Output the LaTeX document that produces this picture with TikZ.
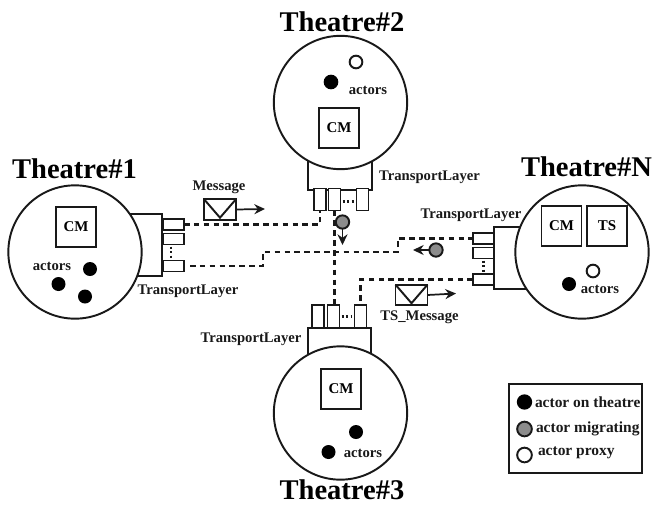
\documentclass[tikz,border=0pt]{standalone}
\usepackage{fontspec}
\setmainfont{Liberation Serif}[BoldFont={Liberation Serif Bold}]
\usetikzlibrary{arrows.meta}
\tikzset{
  x=0.75pt,y=-0.75pt,
  every node/.style={inner sep=0pt,outer sep=0pt},
  stroke/.style={draw=black!90,line width=1.45pt},
  theatre/.style={stroke,fill=white,circle,minimum size=100pt},
  tlayer/.style={stroke,fill=white,rectangle},
  porth/.style={stroke,fill=white,rectangle,minimum width=15.75pt,minimum height=8.25pt},
  portv/.style={stroke,fill=white,rectangle,minimum width=9pt,minimum height=16.5pt},
  cmbox/.style={stroke,fill=white,rectangle,minimum size=30pt,font=\fontsize{11.2pt}{13pt}\selectfont\bfseries},
  onactor/.style={circle,fill=black,minimum size=10.5pt},
  proxy/.style={circle,stroke,fill=white,minimum size=9.5pt},
  migr/.style={circle,stroke,fill=black!45,minimum size=10pt},
  title/.style={font=\fontsize{21.4pt}{24pt}\selectfont\bfseries},
  lbl/.style={font=\fontsize{11pt}{13pt}\selectfont\bfseries,text=black!90},
  leglbl/.style={font=\fontsize{11.6pt}{14pt}\selectfont\bfseries,text=black!90,anchor=west},
  link/.style={draw=black!90,line width=1.8pt,dash pattern=on 4.2pt off 3.2pt},
  dotline/.style={draw=black!90,line width=1.7pt,dash pattern=on 1.7pt off 1.7pt,shorten >=1.6pt,shorten <=1.6pt},
  envel/.style={stroke,fill=white,rectangle,minimum width=24pt,minimum height=15.5pt},
  flow/.style={draw=black!90,line width=1.3pt,-{Stealth[length=8pt,width=7.5pt]}},
}
\begin{document}
\begin{tikzpicture}
\useasboundingbox (0,0) rectangle (652,504);

% Theatre 1
\node[tlayer,minimum width=31.5pt,minimum height=46.5pt] (t1l) at (141,245) {};
\node[theatre] (t1) at (75,252) {};
\node[porth] (t1a) at (173.5,224.5) {};
\node[porth] (t1b) at (173.5,239) {};
\node[porth] (t1c) at (173.5,266) {};
\node[cmbox] (t1m) at (76,227) {CM};
\node[lbl] (t1t) at (52,266) {actors};
\node[onactor] (t1x) at (90,269) {};
\node[onactor] (t1y) at (58.5,284) {};
\node[onactor] (t1z) at (85,296.5) {};
\node[title] (t1n) at (74.5,169) {Theatre\#1};
\node[lbl] (t1r) at (188,291) {TransportLayer};

% Theatre 2
\node[tlayer,minimum width=48pt,minimum height=30pt] (t2l) at (340,170) {};
\node[theatre] (t2) at (340.5,102.5) {};
\node[portv] (t2a) at (320,199.5) {};
\node[portv] (t2b) at (334.5,199.5) {};
\node[portv] (t2c) at (362.5,199.5) {};
\node[cmbox] (t2m) at (339,128) {CM};
\node[onactor,minimum size=11pt] (t2x) at (331,82) {};
\node[proxy] (t2y) at (356,62) {};
\node[lbl] (t2t) at (368,90) {actors};
\node[title] (t2n) at (342,22) {Theatre\#2};
\node[lbl] (t2r) at (429.5,177) {TransportLayer};

% Theatre 3
\node[tlayer,minimum width=47.25pt,minimum height=27.75pt] (t3l) at (339.5,346.5) {};
\node[theatre] (t3) at (340.5,413) {};
\node[portv,minimum height=17.25pt] (t3a) at (318,316.5) {};
\node[portv,minimum height=17.25pt] (t3b) at (333.5,316.5) {};
\node[portv,minimum height=17.25pt] (t3c) at (360.5,316.5) {};
\node[cmbox] (t3m) at (341,389) {CM};
\node[onactor] (t3x) at (356,432) {};
\node[onactor] (t3y) at (328.5,452) {};
\node[lbl] (t3t) at (363,453) {actors};
\node[title] (t3n) at (342,490) {Theatre\#3};
\node[lbl] (t3r) at (251,339) {TransportLayer};

% Theatre N
\node[tlayer,minimum width=34.5pt,minimum height=46.5pt] (tnl) at (517,258) {};
\node[theatre] (tn) at (582,252) {};
\node[porth] (tna) at (483.5,238.5) {};
\node[porth] (tnb) at (483.5,253) {};
\node[porth] (tnc) at (483.5,279.5) {};
\node[cmbox] (tnm) at (561.5,226) {CM};
\node[cmbox] (tns) at (607,226) {TS};
\node[onactor] (tnx) at (569,284) {};
\node[proxy] (tny) at (593,271) {};
\node[lbl] (tnt) at (600,289) {actors};
\node[title,anchor=west] (tnn) at (521,167) {Theatre\#N};
\node[lbl] (tnr) at (471,215) {TransportLayer};

% Waypoints
\coordinate (w1) at (263,252);
\coordinate (w2) at (398,252);
\coordinate (s1) at ([xshift=4.5pt]t1c.east);

% Links
\draw[link] (t1a.east) -| (t2a.south);
\draw[link] (s1) -| (w1) -- (w2) |- (tna.west);
\draw[link] (t2b.south) -- (t2b.south |- t3b.north);
\draw[link] (tnc.west) -| (t3c.north);

% Dotted port gaps
\draw[dotline] ([xshift=-1.9pt]t1b.south) -- ([xshift=-1.9pt]t1c.north);
\draw[dotline] (tnb.south) -- (tnc.north);
\draw[dotline] ([yshift=-1.5pt]t2b.east) -- ([yshift=-1.5pt]t2c.west);
\draw[dotline] (t3b.east) -- (t3c.west);

% Messages
\node[lbl] (msg) at (219,187) {Message};
\node[envel] (e1) at (220,209.5) {};
\coordinate (e1v) at ([yshift=1.6pt]e1.south);
\draw[stroke] (e1.north west) -- (e1v) -- (e1.north east);
\coordinate (e1a) at (265,209);
\draw[flow] (e1.east) -- (e1a);

\node[lbl] (tsm) at (419.5,317) {TS\_Message};
\node[envel] (e2) at (411.5,295) {};
\coordinate (e2v) at ([yshift=1.6pt]e2.south);
\draw[stroke] (e2.north west) -- (e2v) -- (e2.north east);
\coordinate (e2a) at (456,293.5);
\draw[flow] (e2.east) -- (e2a);

% Migrating actors
\node[migr] (m1) at (342.5,222) {};
\coordinate (m1a) at (342.5,245);
\draw[flow] (m1.south) -- (m1a);
\node[migr] (m2) at (436,250) {};
\coordinate (m2a) at (413,250);
\draw[flow] (m2.west) -- (m2a);

% Legend
\node[stroke,rectangle,minimum width=99.75pt,minimum height=66.75pt] (leg) at (575.5,428.5) {};
\node[onactor,minimum size=11.5pt] (la) at (524.5,402) {};
\node[circle,stroke,fill=black!45,minimum size=11pt] (lb) at (524.5,429) {};
\node[circle,stroke,fill=white,minimum size=11pt] (lc) at (524.5,455) {};
\node[leglbl] (lat) at (535,402) {actor on theatre};
\node[leglbl] (lbt) at (536,429) {actor migrating};
\node[leglbl] (lct) at (538,453) {actor proxy};
\end{tikzpicture}
\end{document}
